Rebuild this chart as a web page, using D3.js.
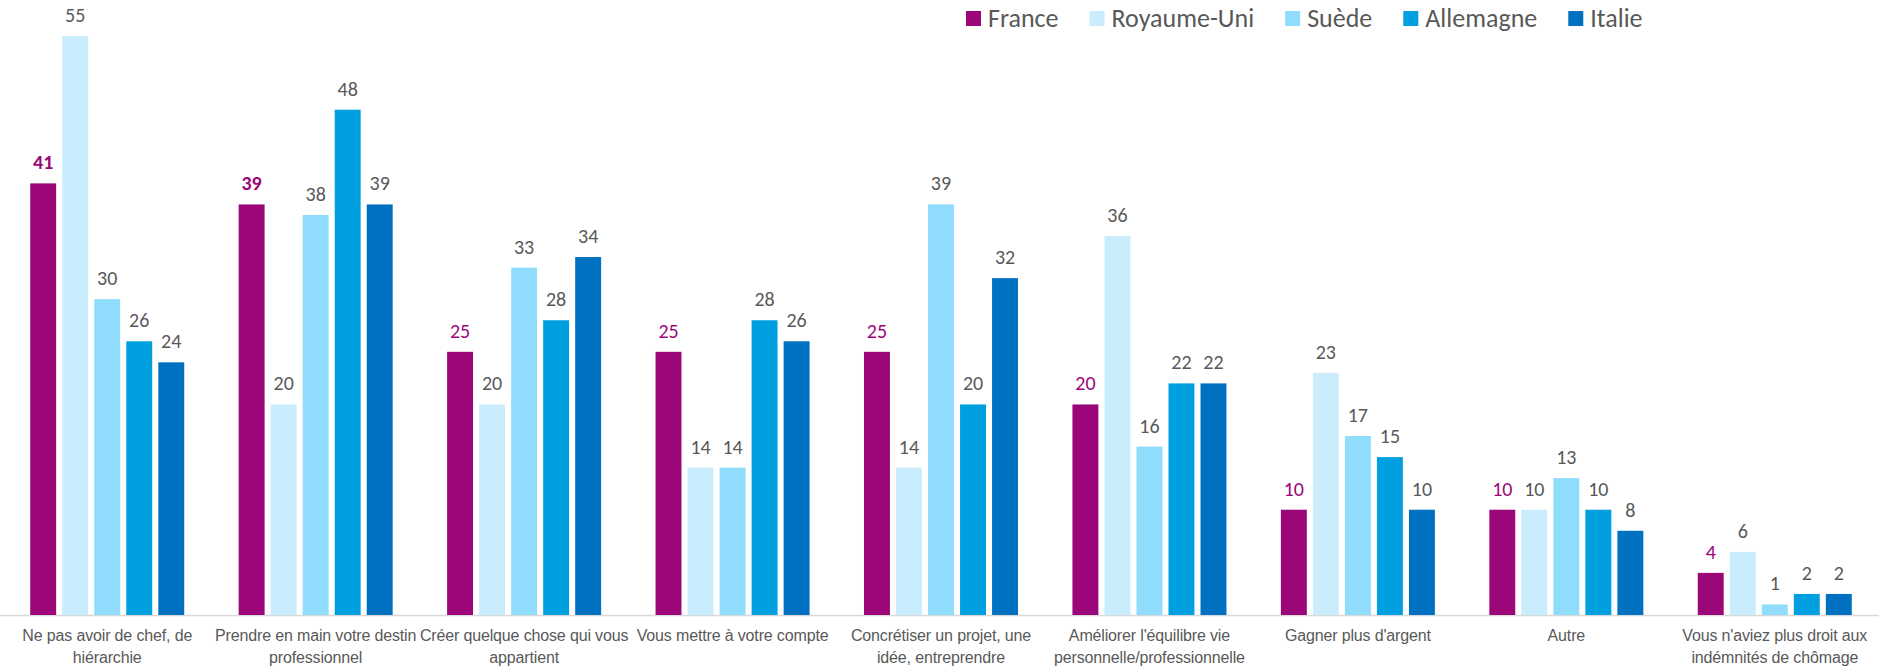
<!DOCTYPE html>
<html>
<head>
<meta charset="utf-8">
<script src="https://cdn.jsdelivr.net/npm/d3@7"></script>
<style>
  body { margin: 0; background: #fff; }
  svg { display: block; }
</style>
</head>
<body>
<script>
// Data
var categories = [
    "Ne pas avoir de chef, de hiérarchie",
    "Prendre en main votre destin professionnel",
    "Créer quelque chose qui vous appartient",
    "Vous mettre à votre compte",
    "Concrétiser un projet, une idée, entreprendre",
    "Améliorer l'équilibre vie personnelle/professionnelle",
    "Gagner plus d'argent",
    "Autre",
    "Vous n'aviez plus droit aux indémnités de chômage"
];
// tick labels as they wrap under each group
var categoryLines = [
    ["Ne pas avoir de chef, de", "hiérarchie"],
    ["Prendre en main votre destin", "professionnel"],
    ["Créer quelque chose qui vous", "appartient"],
    ["Vous mettre à votre compte"],
    ["Concrétiser un projet, une", "idée, entreprendre"],
    ["Améliorer l'équilibre vie", "personnelle/professionnelle"],
    ["Gagner plus d'argent"],
    ["Autre"],
    ["Vous n'aviez plus droit aux", "indémnités de chômage"]
];
var seriesNames = ["France", "Royaume-Uni", "Suède", "Allemagne", "Italie"];
var seriesColors = ["#9b0778", "#c9edfd", "#8fdcfd", "#009fe0", "#0070c0"];

var france     = [41, 39, 25, 25, 25, 20, 10, 10, 4];
var royaumeUni = [55, 20, 20, 14, 14, 36, 23, 10, 6];
var suede      = [30, 38, 33, 14, 39, 16, 17, 13, 1];
var allemagne  = [26, 48, 28, 28, 20, 22, 15, 10, 2];
var italie     = [24, 39, 34, 26, 32, 22, 10, 8, 2];
var seriesValues = [france, royaumeUni, suede, allemagne, italie];

// France labels shown in bold
var boldFrance = [true, true, false, false, false, false, false, false, false];

var width = 1879, height = 667;
var baseY = 615;

var svg = d3.select("body")
        .append("svg")
        .attr("width", width)
        .attr("height", height);

var x0 = d3.scaleBand()
        .domain(categories)
        .range([3, 1879])
        .paddingInner(0)
        .paddingOuter(0);

var x1 = d3.scaleBand()
        .domain(seriesNames)
        .range([0, x0.bandwidth()])
        .paddingInner(0.19)
        .paddingOuter(0.85);

var y = d3.scaleLinear()
        .domain([0, 55])
        .range([baseY, 36]);

// axis line
svg.append("line")
    .attr("x1", 0)
    .attr("x2", 1879)
    .attr("y1", baseY + 0.5)
    .attr("y2", baseY + 0.5)
    .attr("stroke", "#d9d9d9")
    .attr("stroke-width", 1.5);

var cells = [];
categories.forEach(function(c, i) {
    seriesNames.forEach(function(s, j) {
        cells.push({ cat: c, ci: i, ser: s, si: j, v: seriesValues[j][i] });
    });
});

svg.selectAll("rect.bar")
    .data(cells)
    .enter()
    .append("rect")
    .attr("class", "bar")
    .attr("x", function(d) { return x0(d.cat) + x1(d.ser); })
    .attr("y", function(d) { return y(d.v); })
    .attr("width", x1.bandwidth())
    .attr("height", function(d) { return baseY - y(d.v); })
    .attr("fill", function(d) { return seriesColors[d.si]; });

svg.selectAll("text.val")
    .data(cells)
    .enter()
    .append("text")
    .attr("class", "val")
    .attr("x", function(d) { return x0(d.cat) + x1(d.ser) + x1.bandwidth() / 2; })
    .attr("y", function(d) { return y(d.v) - 14; })
    .attr("text-anchor", "middle")
    .attr("font-family", "Carlito, Lato, sans-serif")
    .attr("font-size", "20px")
    .attr("font-weight", function(d) { return (d.si === 0 && boldFrance[d.ci]) ? "bold" : "normal"; })
    .attr("fill", function(d) { return d.si === 0 ? "#9b0778" : "#595959"; })
    .text(function(d) { return d.v; });

// category labels
var catG = svg.selectAll("text.cat")
    .data(categories)
    .enter()
    .append("text")
    .attr("class", "cat")
    .attr("text-anchor", "middle")
    .attr("font-family", "'Liberation Sans Narrow', 'Arial Narrow', sans-serif")
    .attr("font-size", "16px")
    .attr("letter-spacing", "-0.15px")
    .attr("fill", "#595959");

catG.selectAll("tspan")
    .data(function(d, i) { return categoryLines[i]; })
    .enter()
    .append("tspan")
    .attr("x", function() {
        var c = d3.select(this.parentNode).datum();
        return x0(c) + x0.bandwidth() / 2;
    })
    .attr("y", function(d, k) { return 641 + k * 22; })
    .text(function(d) { return d; });

// legend
var legend = svg.append("g");
var lx = 966;
seriesNames.forEach(function(s, j) {
    legend.append("rect")
        .attr("x", lx)
        .attr("y", 11)
        .attr("width", 15)
        .attr("height", 15)
        .attr("fill", seriesColors[j]);
    var t = legend.append("text")
        .attr("x", lx + 22)
        .attr("y", 27)
        .attr("font-family", "Carlito, Lato, sans-serif")
        .attr("font-size", "26px")
        .attr("fill", "#595959")
        .text(s);
    lx += 22 + t.node().getComputedTextLength() + 31;
});
</script>
</body>
</html>
